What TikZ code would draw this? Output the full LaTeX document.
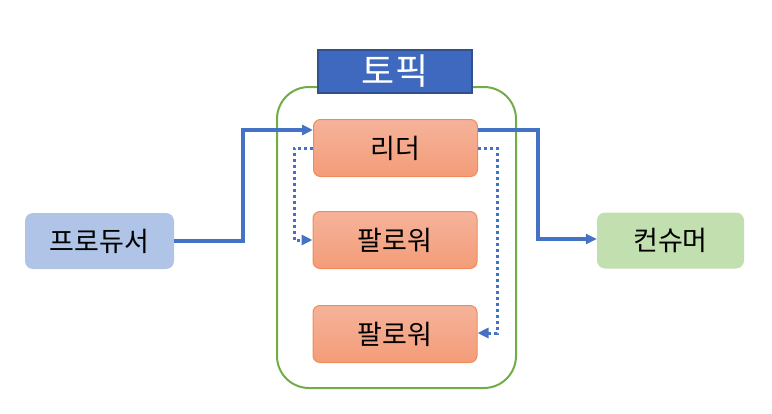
\documentclass[tikz,border=0pt]{standalone}
\usepackage{fontspec}
\setmainfont{Noto Sans CJK KR}
\usetikzlibrary{arrows.meta}
\definecolor{arrblue}{HTML}{4472C4}
\definecolor{topicfill}{HTML}{3E69BE}
\definecolor{topicline}{HTML}{2F528F}
\definecolor{grn}{HTML}{70AD47}
\definecolor{orgline}{HTML}{F08C5A}
\definecolor{orgtop}{HTML}{F5B39B}
\definecolor{orgbot}{HTML}{F49C78}
\definecolor{prodfill}{HTML}{AFC4E7}
\definecolor{consfill}{HTML}{C2DFB0}
\tikzset{
  member/.style={rectangle, rounded corners=7pt, draw=orgline, line width=1pt,
    top color=orgtop, bottom color=orgbot, minimum width=164pt, minimum height=57pt,
    font=\fontsize{27}{30}\selectfont, inner sep=0pt},
  endbox/.style={rectangle, rounded corners=8pt, minimum height=56pt,
    font=\fontsize{27}{30}\selectfont, inner sep=0pt},
  flow/.style={draw=arrblue, line width=3.2pt, -{Triangle[length=11pt,width=10pt]}},
  repl/.style={draw=arrblue, line width=3pt, dash pattern=on 3pt off 3pt,
    -{Triangle[length=11pt,width=10pt]}},
}
\begin{document}
\begin{tikzpicture}[x=1pt,y=-1pt]
\useasboundingbox (0,0) rectangle (772,413);
% container
\draw[grn, line width=2pt, rounded corners=32pt] (277,87) rectangle (516,388);
\node[rectangle, draw=topicline, line width=1.2pt, fill=topicfill, text=white,
  minimum width=154pt, minimum height=43pt, inner sep=0pt,
  font=\fontsize{36}{40}\selectfont] (topic) at (395,71.5) {토픽};
\node[member] (leader) at (395.5,148) {리더};
\node[member] (f1) at (395,240) {팔로워};
\node[member] (f2) at (395,334) {팔로워};
\node[endbox, fill=prodfill, minimum width=149pt] (prod) at (99.5,241) {프로듀서};
\node[endbox, fill=consfill, minimum width=147pt] (cons) at (670.5,240.5) {컨슈머};
\coordinate (p1) at (243,241);
\coordinate (p2) at (243,130);
\coordinate (c1) at (538,130);
\coordinate (c2) at (538,239);
\draw[flow] (prod.east |- p1) -- (p1) -- (p2) -- (leader.west |- p2);
\draw[flow] (leader.east |- c1) -- (c1) -- (c2) -- (cons.west |- c2);
\coordinate (l1) at (294,148);
\coordinate (l2) at (294,240);
\coordinate (r1) at (497,148);
\coordinate (r2) at (497,333);
\draw[repl] (leader.west |- l1) -- (l1) -- (l2) -- (f1.west |- l2);
\draw[repl] (leader.east |- r1) -- (r1) -- (r2) -- (f2.east |- r2);
\end{tikzpicture}
\end{document}
